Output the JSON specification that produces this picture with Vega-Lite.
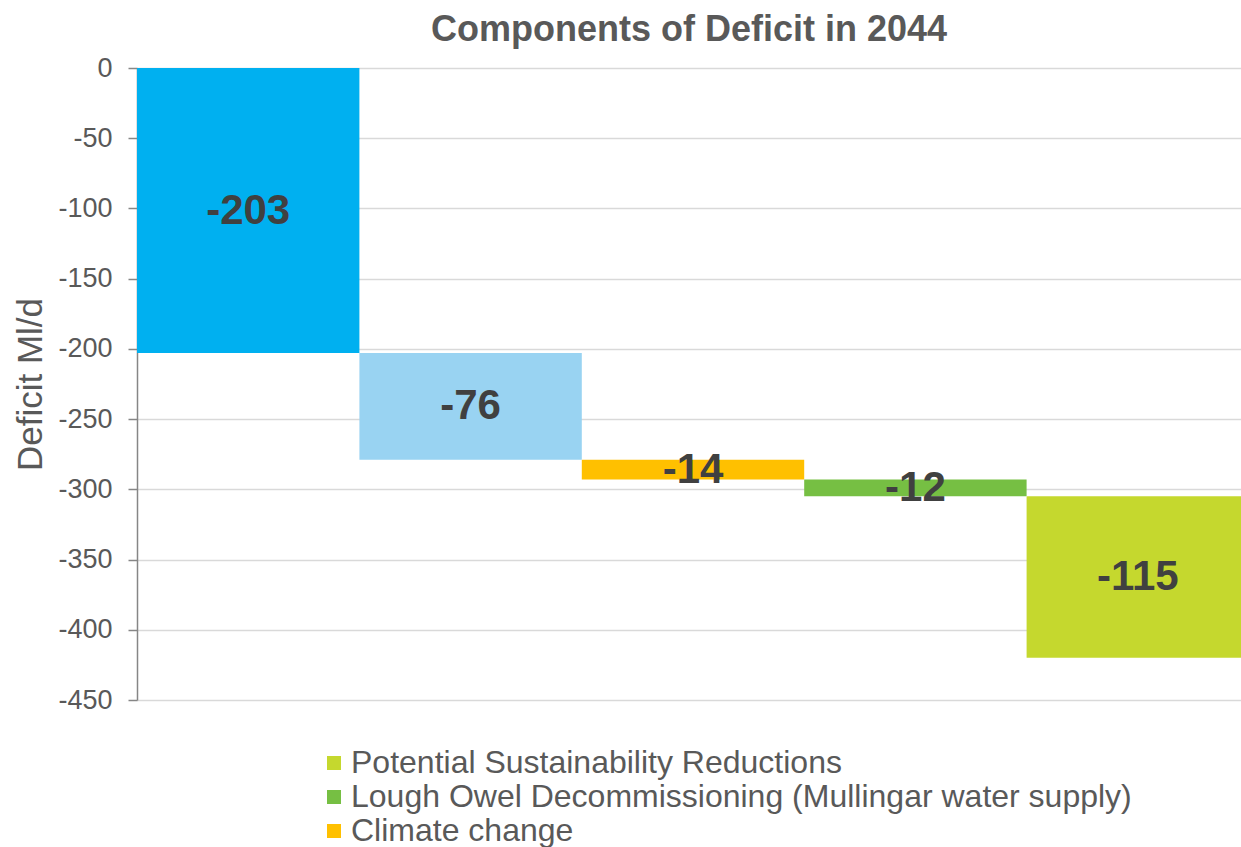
{
  "$schema": "https://vega.github.io/schema/vega-lite/v6.json",
  "autosize": {"type": "none"},
  "width": 1104,
  "height": 632,
  "padding": {"left": 137, "top": 68, "right": 0, "bottom": 147},
  "background": "white",
  "title": {
    "text": "Components of Deficit in 2044",
    "fontSize": 36,
    "font": "Liberation Sans",
    "fontWeight": "bold",
    "color": "#595959",
    "anchor": "middle",
    "offset": 5
  },
  "data": {
    "values": [
      {"component": "Existing deficit", "start": 0, "end": -203, "value": -203},
      {"component": "Demand growth", "start": -203, "end": -279, "value": -76},
      {"component": "Climate change", "start": -279, "end": -293, "value": -14},
      {"component": "Lough Owel Decommissioning (Mullingar water supply)", "start": -293, "end": -305, "value": -12},
      {"component": "Potential Sustainability Reductions", "start": -305, "end": -420, "value": -115}
    ]
  },
  "transform": [{"calculate": "(datum.start + datum.end) / 2", "as": "mid"}],
  "encoding": {
    "x": {
      "field": "component",
      "type": "nominal",
      "sort": null,
      "scale": {"range": [0, 1112], "paddingInner": 0, "paddingOuter": 0},
      "axis": null
    }
  },
  "layer": [
    {
      "mark": {"type": "bar", "clip": true},
      "encoding": {
        "y": {
          "field": "start",
          "type": "quantitative",
          "scale": {"domain": [-450, 0], "nice": false, "zero": false},
          "axis": {
            "title": "Deficit Ml/d",
            "values": [0, -50, -100, -150, -200, -250, -300, -350, -400, -450],
            "labelExpr": "toString(datum.value)",
            "labelFontSize": 27,
            "labelFont": "Liberation Sans",
            "labelColor": "#595959",
            "labelPadding": 16,
            "titleFontSize": 35,
            "titleFont": "Liberation Sans",
            "titleFontWeight": "normal",
            "titleColor": "#595959",
            "titlePadding": 9,
            "domainColor": "#868686",
            "domainWidth": 1.5,
            "tickColor": "#868686",
            "tickWidth": 1.5,
            "tickSize": 9,
            "gridColor": "#D9D9D9",
            "gridWidth": 1.5
          }
        },
        "y2": {"field": "end"},
        "color": {
          "field": "component",
          "type": "nominal",
          "scale": {
            "domain": [
              "Potential Sustainability Reductions",
              "Lough Owel Decommissioning (Mullingar water supply)",
              "Climate change",
              "Demand growth",
              "Existing deficit"
            ],
            "range": ["#C5D82E", "#76BF43", "#FFC000", "#99D3F2", "#00B0F0"]
          },
          "legend": {
            "orient": "none",
            "legendX": 181,
            "legendY": 679,
            "direction": "vertical",
            "title": null,
            "values": [
              "Potential Sustainability Reductions",
              "Lough Owel Decommissioning (Mullingar water supply)",
              "Climate change"
            ],
            "labelFontSize": 32,
            "labelFont": "Liberation Sans",
            "labelColor": "#595959",
            "labelLimit": 1000,
            "labelOffset": 1,
            "symbolType": "square",
            "symbolSize": 196,
            "symbolStrokeWidth": 0,
            "rowPadding": 2,
            "padding": 0
          }
        }
      }
    },
    {
      "mark": {
        "type": "text",
        "fontSize": 42,
        "font": "Liberation Sans",
        "fontWeight": "bold",
        "color": "#404040",
        "baseline": "middle",
        "align": "center"
      },
      "encoding": {
        "y": {"field": "mid", "type": "quantitative"},
        "text": {"field": "value", "type": "nominal"}
      }
    }
  ],
  "config": {"view": {"stroke": null}}
}
